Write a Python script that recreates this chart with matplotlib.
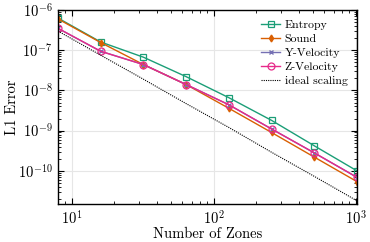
import matplotlib
matplotlib.use("Agg")
import matplotlib.pyplot as plt

plt.rcParams["font.family"] = "serif"
plt.rcParams["font.serif"] = ["cmr10"]
plt.rcParams["mathtext.fontset"] = "cm"
plt.rcParams["axes.formatter.use_mathtext"] = True

zones = [8, 16, 32, 64, 128, 256, 512, 1024]
entropy = [6.3e-7, 1.6e-7, 6.7e-8, 2.2e-8, 6.6e-9, 1.8e-9, 4.2e-10, 1.0e-10]
sound = [6.0e-7, 1.55e-7, 4.4e-8, 1.4e-8, 3.6e-9, 9.0e-10, 2.2e-10, 5.4e-11]
y_vel = [3.5e-7, 9.4e-8, 4.4e-8, 1.4e-8, 4.4e-9, 1.1e-9, 2.8e-10, 6.9e-11]
z_vel = [3.5e-7, 9.4e-8, 4.4e-8, 1.4e-8, 4.4e-9, 1.1e-9, 2.8e-10, 6.9e-11]
ideal = [3.0e-7, 7.5e-8, 1.9e-8, 4.7e-9, 1.2e-9, 2.9e-10, 7.3e-11, 1.8e-11]

fig = plt.figure(figsize=(3.7, 2.42), dpi=100)
ax = fig.add_axes([58/370, 1-204/242, 299/370, 194/242])

ax.plot(zones, entropy, color="#1b9e77", marker="s", mfc="none", ms=5, lw=1.0, mew=0.9, label="Entropy")
ax.plot(zones, sound, color="#d95f02", marker="d", ms=3.5, lw=1.0, label="Sound")
ax.plot(zones, y_vel, color="#7570b3", marker="x", ms=3.5, lw=1.0, label="Y-Velocity")
ax.plot(zones, z_vel, color="#e7298a", marker="o", mfc="none", ms=5, lw=1.0, mew=0.9, label="Z-Velocity")
ax.plot(zones, ideal, color="black", ls=(0, (1, 1)), lw=0.8, label="ideal scaling")

ax.set_xscale("log")
ax.set_yscale("log")
ax.set_xlim(8, 1024)
ax.set_ylim(1.5e-11, 1e-6)
ax.grid(True, which="major", color="#e6e6e6", lw=0.8)
ax.set_axisbelow(True)
ax.tick_params(which="both", direction="in", top=True, right=True, labelsize=10.5)
ax.tick_params(which="major", length=4, pad=4)
ax.tick_params(which="minor", length=2)
ax.set_xlabel("Number of Zones", fontsize=10.5)
ax.set_ylabel("L1 Error", fontsize=10.5)
ax.xaxis.set_label_coords(0.5, -0.12)
ax.yaxis.set_label_coords(-0.13, 0.5)
for s in ax.spines.values():
    s.set_linewidth(1.0)

ax.legend(fontsize=8.5, frameon=False, loc="upper right", handlelength=1.6,
          handletextpad=0.4, labelspacing=0.32, borderaxespad=0.4)

fig.savefig("out.png", dpi=100)
